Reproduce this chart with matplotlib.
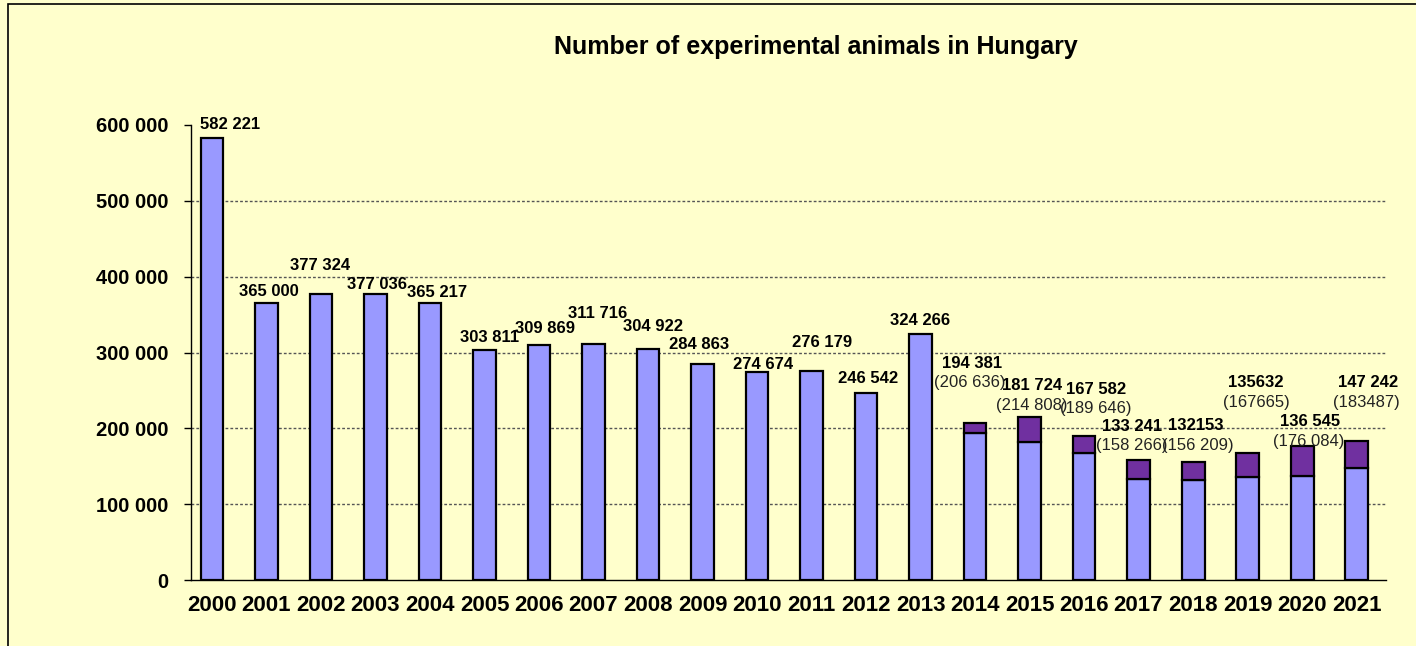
import matplotlib
matplotlib.use("Agg")
import matplotlib.pyplot as plt
from matplotlib.patches import Rectangle
import numpy as np

plt.rcParams['font.family'] = ['Liberation Sans', 'DejaVu Sans']

# ---- data ----
years = [str(y) for y in range(2000, 2022)]
animals = [582221, 365000, 377324, 377036, 365217, 303811, 309869, 311716,
           304922, 284863, 274674, 276179, 246542, 324266, 194381, 181724,
           167582, 133241, 132153, 135632, 136545, 147242]
total_years = ['2014', '2015', '2016', '2017', '2018', '2019', '2020', '2021']
totals = [206636, 214808, 189646, 158266, 156209, 167665, 176084, 183487]
value_labels = ['582 221', '365 000', '377 324', '377 036', '365 217', '303 811',
                '309 869', '311 716', '304 922', '284 863', '274 674', '276 179',
                '246 542', '324 266', '194 381', '181 724', '167 582', '133 241',
                '132153', '135632', '136 545', '147 242']
total_labels = ['(206 636)', '(214 808)', '(189 646)', '(158 266)', '(156 209)',
                '(167665)', '(176 084)', '(183487)']
yticks = [0, 100000, 200000, 300000, 400000, 500000, 600000]
ytick_labels = ['0', '100 000', '200 000', '300 000', '400 000', '500 000', '600 000']
title = 'Number of experimental animals in Hungary'

# ---- label offsets (pixels) ----
value_offsets = [(18, 13.5), (2, 12), (-1, 28), (2, 10), (7, 11), (5, 12.6),
                 (6, 17), (4.5, 30.6), (5, 22), (-3.5, 19), (6, 7), (10.5, 27.6),
                 (2, 15), (0, 14), (-3, 60), (3, 32), (12, 47), (-6, 33),
                 (3, 36.5), (8.5, 70), (8, 24.5), (11, 58)]
total_offsets = [(-5, 41), (2, 12), (12, 28), (-7, 14), (5, 16.5), (8.5, 50),
                 (7, 4.5), (10, 38)]

BG = '#FFFFCC'
BASE = '#9999FF'
TOP = '#7030A0'

fig = plt.figure(figsize=(14.16, 6.46), dpi=100, facecolor=BG)
ax = fig.add_axes([191/1416, 1-580/646, (1386-191)/1416, (580-125)/646])
ax.set_facecolor(BG)

x = np.arange(len(years))
width = 0.42
ax.bar(x, animals, width=width, color=BASE, edgecolor='black', linewidth=1.6, zorder=3)

idx = [years.index(y) for y in total_years]
extra = [t - animals[i] for t, i in zip(totals, idx)]
base_sub = [animals[i] for i in idx]
ax.bar(idx, extra, bottom=base_sub, width=width, color=TOP, edgecolor='black',
       linewidth=1.6, zorder=3)

# bar tops (total height)
tops = list(animals)
for t, i in zip(totals, idx):
    tops[i] = t

for i, (lab, off) in enumerate(zip(value_labels, value_offsets)):
    ax.annotate(lab, xy=(x[i], tops[i]), xytext=off, textcoords='offset pixels',
                ha='center', va='center', fontsize=12, fontweight='bold',
                color='black', zorder=5, annotation_clip=False)
for i, lab, off in zip(idx, total_labels, total_offsets):
    ax.annotate(lab, xy=(x[i], tops[i]), xytext=off, textcoords='offset pixels',
                ha='center', va='center', fontsize=12, color='#222222',
                zorder=5, annotation_clip=False)

ax.set_ylim(0, 600000)
ax.set_xlim(-0.385, 21.54)
ax.set_yticks(yticks)
ax.set_yticklabels(ytick_labels, fontsize=14.5, fontweight='bold')
ax.set_xticks(x)
ax.set_xticklabels(years, fontsize=16, fontweight='bold')
ax.tick_params(axis='x', length=0, pad=11)
ax.tick_params(axis='y', length=5, width=1, direction='out', pad=11.5)

for yv in yticks[1:-1]:
    ax.axhline(yv, color='#555555', linewidth=1, linestyle=(0, (2, 1.5)), zorder=1)

ax.spines['top'].set_visible(False)
ax.spines['right'].set_visible(False)
ax.spines['left'].set_linewidth(1)
ax.spines['bottom'].set_linewidth(1)

fig.text(816/1416, 1-47/646, title, ha='center', va='center', fontsize=18,
         fontweight='bold')

fig.patches.append(Rectangle((8/1416, -0.1), 1.2, 1.1 - 4/646, transform=fig.transFigure,
                             fill=False, edgecolor='black', linewidth=1.2, zorder=10))

fig.savefig('out.png', dpi=100, facecolor=BG)
